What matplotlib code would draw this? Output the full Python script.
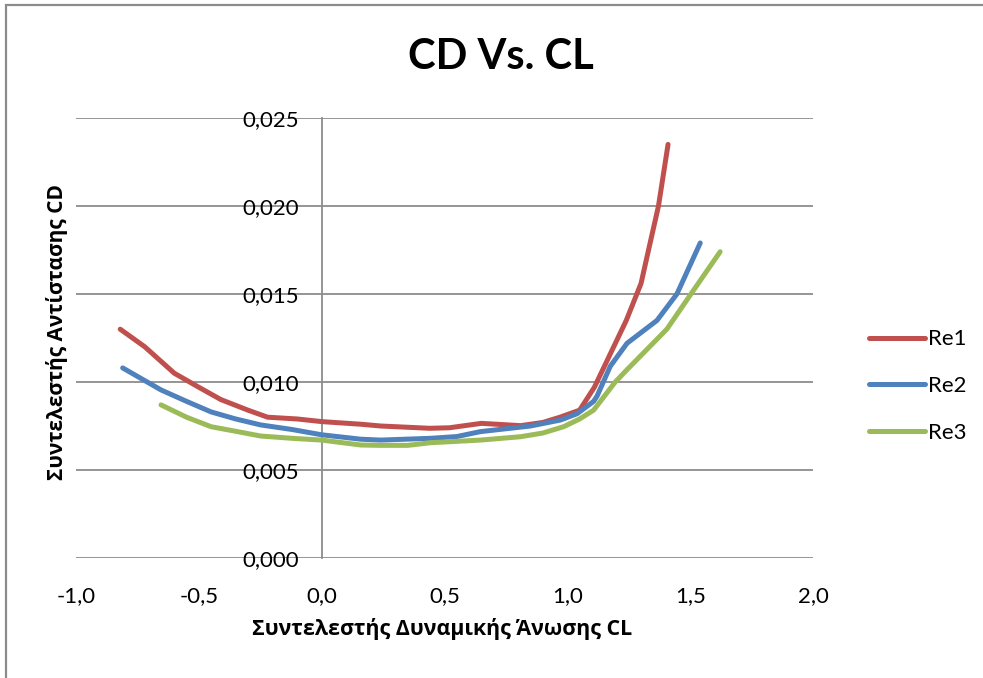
import matplotlib
matplotlib.use("Agg")
import matplotlib.pyplot as plt
from matplotlib.patches import Rectangle

plt.rcParams['font.family'] = ['Lato', 'Noto Sans', 'DejaVu Sans']

# Lift coefficient (CL) and drag coefficient (CD) for each Reynolds number
cl_re1 = [-0.82, -0.72, -0.60, -0.50, -0.41, -0.30, -0.22, -0.10, 0.00, 0.16, 0.24,
          0.44, 0.52, 0.65, 0.81, 0.90, 0.97, 1.05, 1.11, 1.175, 1.24, 1.30, 1.337,
          1.371, 1.41]
cd_re1 = [0.0130, 0.0120, 0.0105, 0.0097, 0.0090, 0.0084, 0.0080, 0.0079, 0.00775,
          0.0076, 0.0075, 0.00737, 0.0074, 0.00765, 0.00752, 0.0077, 0.0080, 0.0084,
          0.0097, 0.0116, 0.0135, 0.0156, 0.0179, 0.0200, 0.0235]

cl_re2 = [-0.81, -0.654, -0.55, -0.45, -0.35, -0.248, -0.12, 0.00, 0.159, 0.24, 0.443,
          0.55, 0.646, 0.85, 0.972, 1.04, 1.107, 1.121, 1.175, 1.243, 1.365, 1.446,
          1.541]
cd_re2 = [0.0108, 0.00955, 0.0089, 0.0083, 0.0079, 0.00756, 0.0073, 0.0070, 0.00675,
          0.0067, 0.0068, 0.0069, 0.00718, 0.0075, 0.00784, 0.0082, 0.0089, 0.0092,
          0.0109, 0.0122, 0.0135, 0.0150, 0.0179]

cl_re3 = [-0.654, -0.55, -0.45, -0.35, -0.248, -0.12, 0.00, 0.159, 0.24, 0.35, 0.443,
          0.646, 0.809, 0.90, 0.985, 1.05, 1.107, 1.195, 1.243, 1.405, 1.513, 1.622]
cd_re3 = [0.0087, 0.0080, 0.00746, 0.0072, 0.00693, 0.0068, 0.0067, 0.00642, 0.0064,
          0.0064, 0.00655, 0.0067, 0.00689, 0.0071, 0.00746, 0.0079, 0.0084, 0.0100,
          0.0107, 0.0130, 0.0152, 0.0174]

series_names = ['Re1', 'Re2', 'Re3']
series_colors = ['#C0504D', '#4F81BD', '#9BBB59']

x_ticks = [-1.0, -0.5, 0.0, 0.5, 1.0, 1.5, 2.0]
x_tick_labels = ['-1,0', '-0,5', '0,0', '0,5', '1,0', '1,5', '2,0']
y_ticks = [0.000, 0.005, 0.010, 0.015, 0.020, 0.025]
y_tick_labels = ['0,000', '0,005', '0,010', '0,015', '0,020', '0,025']

W, H = 983, 678
fig = plt.figure(figsize=(W / 100, H / 100), dpi=100)
fig.patch.set_facecolor('white')

# chart border (frame of the chart object)
fig.patches.append(Rectangle((6 / W, -0.05), 1.2, 1.05 - 5 / H, transform=fig.transFigure,
                             fill=False, edgecolor='#8C8C8C', linewidth=1.6))

ax = fig.add_axes([76 / W, 1 - 558 / H, (813 - 76) / W, (558 - 118) / H])
ax.set_xlim(-1.0, 2.0)
ax.set_ylim(0.0, 0.025)

grid_color = '#8C8C8C'
for yv in y_ticks:
    ax.axhline(yv, color=grid_color, linewidth=1.3, zorder=1)

for s in ['top', 'right', 'bottom']:
    ax.spines[s].set_visible(False)
ax.spines['left'].set_position(('data', 0.0))
ax.spines['left'].set_color(grid_color)
ax.spines['left'].set_linewidth(1.3)

ax.set_xticks(x_ticks)
ax.set_xticklabels(x_tick_labels, fontsize=16)
ax.set_yticks(y_ticks)
ax.set_yticklabels(y_tick_labels, fontsize=16)
ax.tick_params(axis='x', length=0, pad=20)
ax.tick_params(axis='y', length=0, pad=16)

for xs, ys, name, col in zip([cl_re1, cl_re2, cl_re3], [cd_re1, cd_re2, cd_re3],
                             series_names, series_colors):
    ax.plot(xs, ys, color=col, linewidth=3.6, solid_capstyle='round',
            solid_joinstyle='round', label=name, zorder=3)

label_font = ['Open Sans', 'Noto Sans', 'DejaVu Sans']
fig.text(442 / W, 1 - 629 / H, 'Συντελεστής Δυναμικής Άνωσης CL', ha='center',
         va='center', fontsize=15.4, fontweight='bold', family=label_font)
fig.text(57 / W, 1 - 332 / H, 'Συντελεστής Αντίστασης CD', rotation=90,
         ha='center', va='center', fontsize=15, fontweight='bold', family=label_font)

fig.text(501 / W, 1 - 57 / H, 'CD Vs. CL', ha='center', va='center',
         fontsize=30, fontweight='bold')

leg = ax.legend(loc='center left', bbox_to_anchor=(849 / W, 1 - 386 / H),
                bbox_transform=fig.transFigure, frameon=False, fontsize=16,
                handlelength=2.5, handletextpad=0.15, labelspacing=1.2)

fig.savefig('out.png', dpi=100, facecolor='white')
